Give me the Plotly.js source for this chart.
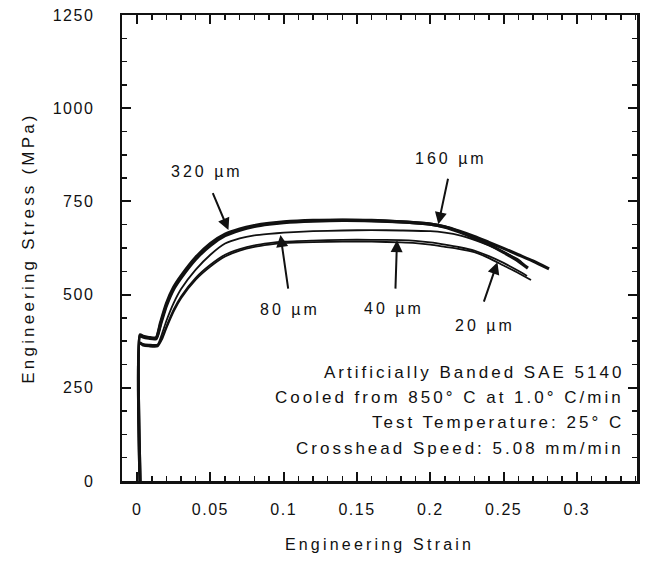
<!DOCTYPE html>
<html>
<head>
<meta charset="utf-8">
<script src="https://cdn.plot.ly/plotly-3.0.1.min.js"></script>
<style>
  html, body { margin: 0; padding: 0; background: #fff; }
  #chart { width: 654px; height: 573px; }
  .xtick text, .ytick text { letter-spacing: 1.5px; }
  .annotation-text { letter-spacing: 3px; }
  .g-xtitle text, .g-ytitle text { letter-spacing: 3.2px; }
</style>
</head>
<body>
<div id="chart"></div>
<script>
// ---- data (engineering strain, engineering stress MPa) ----
const strain160 = [0.002, 0.002, 0.004, 0.008, 0.013, 0.016, 0.02, 0.025, 0.03, 0.04, 0.05, 0.06, 0.07, 0.08, 0.09, 0.10, 0.12, 0.14, 0.16, 0.18, 0.20, 0.21, 0.22, 0.23, 0.24, 0.25, 0.26, 0.27, 0.281];
const stress160 = [0, 390, 386, 383, 382, 420, 470, 515, 545, 595, 632, 658, 673, 683, 689, 693, 697, 699, 698, 695, 689, 682, 670, 656, 640, 624, 607, 590, 569];

const strain320 = [0.002, 0.002, 0.004, 0.008, 0.013, 0.016, 0.02, 0.025, 0.03, 0.04, 0.05, 0.06, 0.07, 0.08, 0.09, 0.10, 0.12, 0.14, 0.16, 0.18, 0.20, 0.21, 0.22, 0.23, 0.24, 0.25, 0.26, 0.2666];
const stress320 = [0, 392, 388, 385, 384, 425, 476, 520, 550, 600, 637, 662, 676, 685, 691, 695, 699, 700, 699, 695, 689, 681, 668, 652, 634, 613, 590, 571];

const strain80 = [0.002, 0.002, 0.004, 0.008, 0.014, 0.017, 0.02, 0.025, 0.03, 0.04, 0.05, 0.06, 0.07, 0.08, 0.09, 0.10, 0.12, 0.14, 0.16, 0.18, 0.20, 0.21, 0.22, 0.23, 0.24, 0.25, 0.26, 0.264];
const stress80 = [0, 372, 368, 366, 366, 395, 430, 478, 515, 567, 607, 637, 651, 659, 663, 666, 670, 672, 673, 672, 670, 666, 659, 647, 632, 614, 594, 580];

const strain40 = [0.002, 0.002, 0.004, 0.008, 0.014, 0.017, 0.02, 0.025, 0.03, 0.04, 0.05, 0.06, 0.07, 0.08, 0.09, 0.10, 0.12, 0.14, 0.16, 0.18, 0.19, 0.20, 0.21, 0.22, 0.23, 0.24, 0.25, 0.26, 0.266];
const stress40 = [0, 370, 366, 364, 364, 385, 415, 460, 495, 545, 580, 607, 622, 632, 638, 642, 645, 647, 647, 646, 644, 640, 634, 627, 618, 603, 585, 564, 550];

const strain20 = [0.002, 0.002, 0.004, 0.008, 0.014, 0.017, 0.02, 0.025, 0.03, 0.04, 0.05, 0.06, 0.07, 0.08, 0.09, 0.10, 0.12, 0.14, 0.16, 0.18, 0.19, 0.20, 0.21, 0.22, 0.23, 0.24, 0.25, 0.26, 0.2687];
const stress20 = [0, 368, 363, 361, 361, 380, 410, 455, 490, 540, 575, 602, 618, 628, 634, 638, 641, 642, 642, 640, 638, 634, 628, 622, 614, 598, 578, 558, 539];

const curveLabels = ["320 µm", "160 µm", "80 µm", "40 µm", "20 µm"];
const xTickVals = [0, 0.05, 0.1, 0.15, 0.2, 0.25, 0.3];
const xTickText = ["0", "0.05", "0.1", "0.15", "0.2", "0.25", "0.3"];
const yTickVals = [0, 250, 500, 750, 1000, 1250];
const yTickText = ["0", "250", "500", "750", "1000", "1250"];
const infoLines = ["Artificially Banded SAE 5140", "Cooled from 850° C at 1.0° C/min", "Test Temperature: 25° C", "Crosshead Speed: 5.08 mm/min"];

// ---- traces ----
const FONT = "Liberation Sans, Arial, sans-serif";
function line(x, y, name, w) {
  return { x: x, y: y, name: name, type: "scatter", mode: "lines",
           line: { color: "#111", width: w, shape: "spline", smoothing: 0.6 }, hoverinfo: "skip" };
}
const traces = [
  line(strain20, stress20, curveLabels[4], 1.8),
  line(strain40, stress40, curveLabels[3], 1.8),
  line(strain80, stress80, curveLabels[2], 1.8),
  line(strain160, stress160, curveLabels[1], 3.2),
  line(strain320, stress320, curveLabels[0], 3.2)
];

// ---- annotations (label positions and arrows) ----
const labelPos = [
  { t: curveLabels[0], x: 0.0475, y: 829 },
  { t: curveLabels[1], x: 0.2138, y: 866 },
  { t: curveLabels[2], x: 0.104, y: 461 },
  { t: curveLabels[3], x: 0.175, y: 464 },
  { t: curveLabels[4], x: 0.2376, y: 416 }
];
const arrows = [
  { x: 0.0623, y: 673, ax: 0.0512, ay: 776 },
  { x: 0.2055, y: 689, ax: 0.2123, ay: 815 },
  { x: 0.0978, y: 660, ax: 0.1032, ay: 512 },
  { x: 0.1773, y: 646, ax: 0.1762, ay: 512 },
  { x: 0.2458, y: 587, ax: 0.2362, ay: 477 }
];
const annotations = [];
labelPos.forEach(p => annotations.push({
  x: p.x, y: p.y, xref: "x", yref: "y", text: p.t, showarrow: false,
  font: { family: FONT, size: 16, color: "#111" }, xanchor: "center", yanchor: "middle"
}));
arrows.forEach(a => annotations.push({
  x: a.x, y: a.y, ax: a.ax, ay: a.ay, xref: "x", yref: "y", axref: "x", ayref: "y",
  text: "", showarrow: true, arrowhead: 2, arrowsize: 1.2, arrowwidth: 2, arrowcolor: "#111", standoff: 0
}));
const infoY = [290, 223, 156, 88.5];
infoLines.forEach((t, i) => annotations.push({
  x: 0.3335, y: infoY[i], xref: "x", yref: "y", text: t, showarrow: false,
  xanchor: "right", yanchor: "middle", font: { family: FONT, size: 17, color: "#111" }
}));

const axisCommon = {
  showline: true, linecolor: "#111", linewidth: 2.5, mirror: "ticks",
  ticks: "inside", ticklen: 9, tickwidth: 2, tickcolor: "#111",
  showgrid: false, zeroline: false,
  tickfont: { family: FONT, size: 16, color: "#111" }
};

const layout = {
  width: 654, height: 573,
  margin: { l: 122, r: 17, t: 15, b: 92 },
  paper_bgcolor: "#fff", plot_bgcolor: "#fff",
  showlegend: false,
  xaxis: Object.assign({}, axisCommon, {
    range: [-0.0103, 0.341], tickmode: "array", tickvals: xTickVals, ticktext: xTickText,
    minor: { dtick: 0.01, ticks: "inside", ticklen: 5, tickwidth: 1.5, tickcolor: "#111" },
    ticklabelstandoff: 12,
    title: { text: "Engineering Strain", font: { family: FONT, size: 16, color: "#111" }, standoff: 22 }
  }),
  yaxis: Object.assign({}, axisCommon, {
    range: [0, 1250], tickmode: "array", tickvals: yTickVals, ticktext: yTickText,
    minor: { dtick: 62.5, ticks: "inside", ticklen: 5, tickwidth: 1.5, tickcolor: "#111" },
    ticklabelstandoff: 22,
    title: { text: "Engineering Stress (MPa)", font: { family: FONT, size: 17, color: "#111" }, standoff: 14 }
  }),
  annotations: annotations
};

Plotly.newPlot("chart", traces, layout, { displayModeBar: false, staticPlot: true });
</script>
</body>
</html>
